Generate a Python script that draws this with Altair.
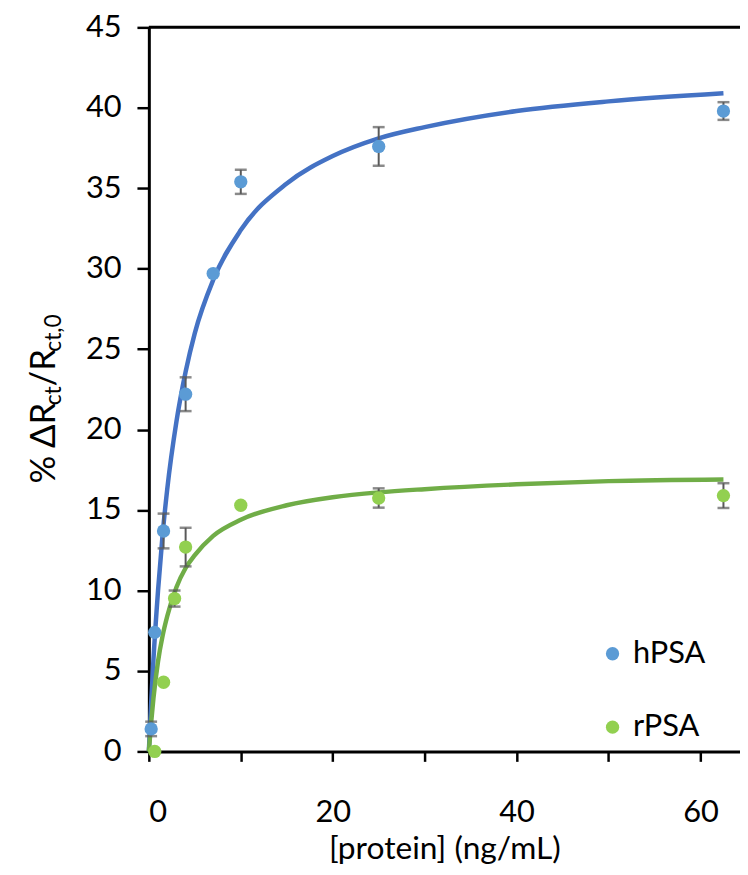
import altair as alt
import pandas as pd

# ---- data ----
h_x = [0.25, 0.64, 1.6, 4, 7, 10, 25, 62.5]
h_y = [1.4, 7.4, 13.7, 22.2, 29.7, 35.4, 37.6, 39.8]
h_err = [0.45, 0.0, 1.08, 1.05, 0.0, 0.75, 1.2, 0.55]

r_x = [0.64, 1.6, 2.8, 4, 10, 25, 62.5]
r_y = [0.0, 4.3, 9.5, 12.7, 15.3, 15.75, 15.9]
r_err = [0.0, 0.0, 0.5, 1.2, 0.0, 0.6, 0.77]

fit_x = [0, 0.25, 0.5, 1, 1.5, 2, 3, 4, 5, 7, 10, 15, 20, 25, 30, 40, 50, 62.5]
h_fit = [0, 3.0, 5.7, 10.0, 13.5, 16.3, 20.5, 23.6, 26.0, 29.3, 32.4, 35.3, 37.0, 38.1, 38.8, 39.8, 40.4, 40.9]
r_fit = [0, 1.8, 3.3, 5.6, 7.2, 8.4, 10.2, 11.4, 12.2, 13.4, 14.4, 15.3, 15.8, 16.1, 16.3, 16.6, 16.8, 16.9]

series = ["hPSA", "rPSA"]
point_colors = ["#5B9BD5", "#92D050"]
line_colors = ["#4472C4", "#70AD47"]

FONT = "Lato"
LBL = 31
TTL = 32
YTTL = 35
SUB = 23

pts = pd.DataFrame(
    [{"s": "hPSA", "x": a, "y": b, "lo": b - e, "hi": b + e, "e": e} for a, b, e in zip(h_x, h_y, h_err)]
    + [{"s": "rPSA", "x": a, "y": b, "lo": b - e, "hi": b + e, "e": e} for a, b, e in zip(r_x, r_y, r_err)]
)
errs = pts[pts["e"] > 0]
fit_h = pd.DataFrame({"x": fit_x, "y": h_fit})
fit_r = pd.DataFrame({"x": fit_x, "y": r_fit})
one = pd.DataFrame({"k": [0]})

W, H = 596, 730
xdom = [0, 64.3]

xs = alt.Scale(domain=xdom, nice=False, zero=False)
ys = alt.Scale(domain=[0, 45], nice=False)

x_axis = alt.Axis(
    values=[0, 10, 20, 30, 40, 50, 60],
    labelExpr="datum.value % 20 == 0 ? datum.label : ''",
    tickSize=10, tickWidth=2.5, tickColor="black",
    domainColor="black", domainWidth=3,
    labelFont=FONT, labelFontSize=LBL, labelColor="black", labelPadding=37,
    title="[protein] (ng/mL)", titleFont=FONT, titleFontSize=TTL,
    titleFontWeight="normal", titleColor="black",
    titleY=108, titleBaseline="alphabetic",
    grid=False,
)
y_axis = alt.Axis(
    values=list(range(0, 50, 5)),
    tickSize=12, tickWidth=2.5, tickColor="black",
    domainColor="black", domainWidth=3,
    labelFont=FONT, labelFontSize=LBL, labelColor="black", labelPadding=16,
    title=None, grid=False,
)

line_h = alt.Chart(fit_h).mark_line(strokeWidth=4.5, interpolate="monotone", color=line_colors[0]).encode(
    x=alt.X("x:Q", scale=xs, axis=x_axis),
    y=alt.Y("y:Q", scale=ys, axis=y_axis),
)
line_r = alt.Chart(fit_r).mark_line(strokeWidth=4.5, interpolate="monotone", color=line_colors[1]).encode(
    x="x:Q", y="y:Q"
)

err_rules = alt.Chart(errs).mark_rule(color="#595959", strokeWidth=2).encode(
    x="x:Q", y="lo:Q", y2="hi:Q"
)
cap_lo = alt.Chart(errs).mark_tick(color="#595959", thickness=2.5, size=12, orient="horizontal").encode(
    x="x:Q", y="lo:Q"
)
cap_hi = alt.Chart(errs).mark_tick(color="#595959", thickness=2.5, size=12, orient="horizontal").encode(
    x="x:Q", y="hi:Q"
)

points = alt.Chart(pts).mark_circle(size=180, opacity=1).encode(
    x="x:Q",
    y="y:Q",
    color=alt.Color(
        "s:N",
        scale=alt.Scale(domain=series, range=point_colors),
        legend=alt.Legend(
            title=None, orient="none", legendX=452, legendY=616,
            labelFont=FONT, labelFontSize=LBL, labelColor="black",
            symbolType="circle", symbolSize=180, symbolStrokeWidth=0,
            symbolOpacity=1, rowPadding=42, labelOffset=5, padding=0,
        ),
    ),
)

top_line = alt.Chart(one).mark_rule(color="black", strokeWidth=3).encode(y=alt.datum(45))

# y-axis title built from pieces (with subscripts)
MAIN_X = -95
SUB_X = -89
title_parts = [
    ("% \u0394R", YTTL, MAIN_X, 460),
    ("ct", SUB, SUB_X, 381),
    ("/R", YTTL, MAIN_X, 362),
    ("ct,0", SUB, SUB_X, 327),
]
ttl = []
for txt, fs, tx, ty in title_parts:
    ttl.append(
        alt.Chart(one).mark_text(
            text=txt, font=FONT, fontSize=fs, angle=270, align="left",
            baseline="alphabetic", color="black",
        ).encode(x=alt.value(tx), y=alt.value(ty))
    )

chart = alt.layer(top_line, line_h, line_r, err_rules, cap_lo, cap_hi, points, *ttl).properties(
    width=W, height=H,
    autosize=alt.AutoSizeParams(type="none"),
    padding={"left": 142, "top": 16, "right": 0, "bottom": 113},
).configure_view(stroke=None).configure(background="white")

chart.save("out.html", embed_options={"renderer": "svg", "actions": False})
